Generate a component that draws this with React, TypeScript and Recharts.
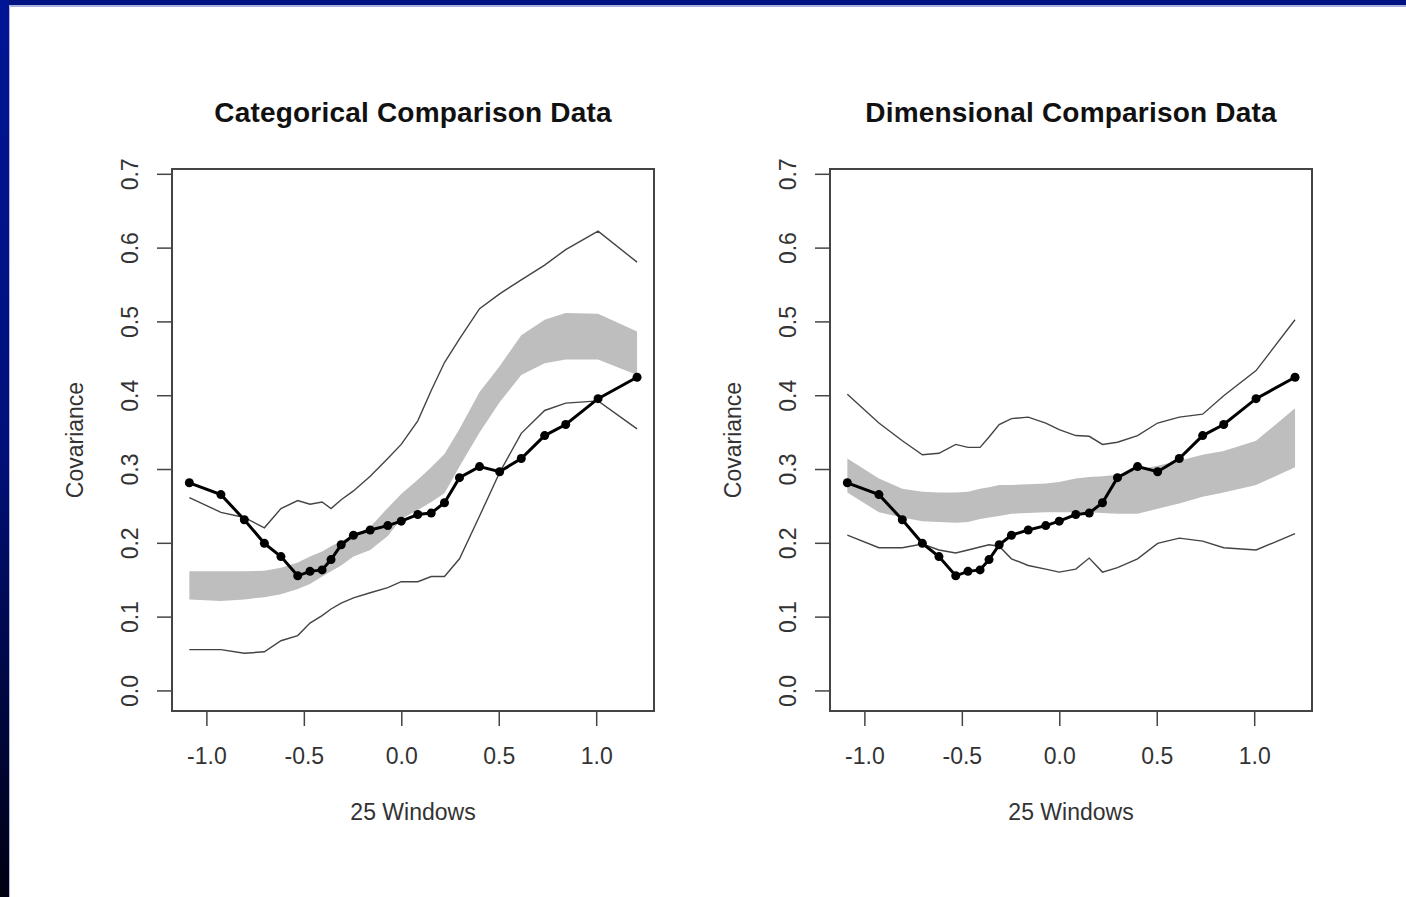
import { Area, ComposedChart, Line, ReferenceArea, XAxis, YAxis } from 'recharts';

const FONT = '"Liberation Sans", Arial, sans-serif';

// window centres shared by both panels
const xs = [-1.09, -0.928, -0.808, -0.705, -0.62, -0.534, -0.471, -0.409, -0.363, -0.311, -0.248, -0.162, -0.072, -0.003, 0.082, 0.151, 0.219, 0.296, 0.399, 0.502, 0.613, 0.733, 0.841, 1.007, 1.207];
const observed = [0.282, 0.266, 0.232, 0.2, 0.182, 0.156, 0.162, 0.164, 0.178, 0.198, 0.211, 0.218, 0.224, 0.23, 0.239, 0.241, 0.255, 0.289, 0.304, 0.297, 0.315, 0.346, 0.361, 0.396, 0.425];

const catBandLo = [0.124, 0.122, 0.124, 0.127, 0.131, 0.138, 0.145, 0.155, 0.162, 0.17, 0.182, 0.191, 0.21, 0.233, 0.245, 0.256, 0.268, 0.304, 0.35, 0.391, 0.428, 0.444, 0.449, 0.449, 0.428];
const catBandHi = [0.162, 0.162, 0.162, 0.163, 0.167, 0.174, 0.182, 0.189, 0.196, 0.203, 0.211, 0.222, 0.248, 0.267, 0.286, 0.303, 0.321, 0.355, 0.405, 0.44, 0.482, 0.503, 0.512, 0.511, 0.487];
const catUpper = [0.262, 0.242, 0.235, 0.221, 0.247, 0.258, 0.253, 0.256, 0.247, 0.259, 0.271, 0.291, 0.315, 0.334, 0.366, 0.407, 0.445, 0.477, 0.518, 0.538, 0.557, 0.577, 0.598, 0.623, 0.581];
const catLower = [0.056, 0.056, 0.051, 0.053, 0.068, 0.075, 0.092, 0.102, 0.111, 0.119, 0.126, 0.133, 0.14, 0.148, 0.148, 0.155, 0.155, 0.179, 0.237, 0.296, 0.349, 0.38, 0.39, 0.393, 0.355];

const dimBandLo = [0.269, 0.242, 0.235, 0.23, 0.229, 0.228, 0.229, 0.233, 0.235, 0.237, 0.24, 0.241, 0.242, 0.242, 0.242, 0.242, 0.241, 0.24, 0.24, 0.247, 0.254, 0.263, 0.269, 0.279, 0.303];
const dimBandHi = [0.315, 0.288, 0.274, 0.27, 0.269, 0.269, 0.27, 0.274, 0.276, 0.279, 0.279, 0.28, 0.281, 0.283, 0.288, 0.29, 0.291, 0.293, 0.3, 0.305, 0.312, 0.32, 0.325, 0.339, 0.383];
const dimUpper = [0.402, 0.363, 0.339, 0.32, 0.322, 0.334, 0.33, 0.33, 0.344, 0.361, 0.369, 0.371, 0.363, 0.354, 0.346, 0.345, 0.334, 0.337, 0.346, 0.363, 0.371, 0.375, 0.4, 0.434, 0.503];
const dimLower = [0.211, 0.194, 0.194, 0.199, 0.191, 0.187, 0.191, 0.195, 0.198, 0.196, 0.179, 0.17, 0.165, 0.161, 0.165, 0.18, 0.161, 0.167, 0.179, 0.2, 0.207, 0.203, 0.194, 0.191, 0.213];

const xTicks = [-1, -0.5, 0, 0.5, 1];
const yTicks = [0, 0.1, 0.2, 0.3, 0.4, 0.5, 0.6, 0.7];
const xDomain: [number, number] = [-1.179, 1.294];
const yDomain: [number, number] = [-0.0272, 0.7072];

type PanelProps = {
  title: string;
  left: number;
  bandLo: number[];
  bandHi: number[];
  upper: number[];
  lower: number[];
};

const YTick = (props: any) => {
  const { x, y, payload } = props;
  return (
    <text x={x} y={y} transform={`rotate(-90, ${x}, ${y})`} textAnchor="middle" fill="#333" fontSize={23} fontFamily={FONT}>
      {payload.value.toFixed(1)}
    </text>
  );
};

const yLabel = (props: any) => {
  const { x, y, height } = props.viewBox;
  const cx = x - 29;
  const cy = y + height / 2;
  return (
    <text x={cx} y={cy} transform={`rotate(-90, ${cx}, ${cy})`} textAnchor="middle" fill="#333" fontSize={23} fontFamily={FONT}>
      Covariance
    </text>
  );
};

const xLabel = (props: any) => {
  const { x, y, width } = props.viewBox;
  return (
    <text x={x + width / 2} y={y + 109} textAnchor="middle" fill="#333" fontSize={23} fontFamily={FONT}>
      25 Windows
    </text>
  );
};

function Panel({ title, left, bandLo, bandHi, upper, lower }: PanelProps) {
  const rows = xs.map((x, i) => ({
    x,
    obs: observed[i],
    band: [bandLo[i], bandHi[i]],
    upper: upper[i],
    lower: lower[i],
  }));
  return (
    <div style={{ position: 'absolute', left, top: 0, width: 700, height: 897 }}>
      <div
        style={{
          position: 'absolute',
          left: 172,
          width: 482,
          top: 99,
          textAlign: 'center',
          fontFamily: FONT,
          fontWeight: 'bold',
          fontSize: 28,
          lineHeight: '28px',
          letterSpacing: 0.2,
          color: '#111',
          whiteSpace: 'nowrap',
        }}
      >
        {title}
      </div>
      <ComposedChart width={700} height={897} data={rows} margin={{ top: 169, left: 112, right: 46, bottom: 156 }}>
        <XAxis
          dataKey="x"
          type="number"
          domain={xDomain}
          ticks={xTicks}
          allowDataOverflow
          tickFormatter={(v: number) => v.toFixed(1)}
          height={30}
          axisLine={false}
          tickSize={15}
          tickMargin={22}
          tickLine={{ stroke: '#444', strokeWidth: 1.5 }}
          tick={{ fill: '#333', fontSize: 23, fontFamily: FONT }}
          label={{ content: xLabel }}
        />
        <YAxis
          type="number"
          domain={yDomain}
          ticks={yTicks}
          allowDataOverflow
          width={60}
          axisLine={false}
          tickSize={15}
          tickMargin={19}
          tickLine={{ stroke: '#444', strokeWidth: 1.5 }}
          tick={<YTick />}
          label={{ content: yLabel }}
        />
        <Area dataKey="band" type="linear" stroke="none" fill="#bebebe" fillOpacity={1} isAnimationActive={false} activeDot={false} />
        <Line dataKey="upper" type="linear" stroke="#444" strokeWidth={1.4} dot={false} activeDot={false} isAnimationActive={false} />
        <Line dataKey="lower" type="linear" stroke="#444" strokeWidth={1.4} dot={false} activeDot={false} isAnimationActive={false} />
        <Line
          dataKey="obs"
          type="linear"
          stroke="#000"
          strokeWidth={3}
          dot={{ r: 4.5, fill: '#000', stroke: '#000', strokeWidth: 0 }}
          activeDot={false}
          isAnimationActive={false}
        />
        <ReferenceArea x1={xDomain[0]} x2={xDomain[1]} y1={yDomain[0]} y2={yDomain[1]} fill="none" fillOpacity={0} stroke="#444" strokeWidth={2} ifOverflow="visible" />
      </ComposedChart>
    </div>
  );
}

export default function App() {
  return (
    <div style={{ position: 'absolute', left: 0, top: 0, width: 1406, height: 897, background: '#fff', overflow: 'hidden' }}>
      <div style={{ position: 'absolute', left: 0, top: 0, width: 1406, height: 5, background: '#001282' }} />
      <div style={{ position: 'absolute', left: 9, top: 5, width: 1397, height: 2, background: '#aab3df' }} />
      <div
        style={{
          position: 'absolute',
          left: 0,
          top: 0,
          width: 9,
          height: 897,
          background: 'linear-gradient(to bottom, #001596 0%, #00107a 50%, #000012 100%)',
        }}
      />
      <div style={{ position: 'absolute', left: 9, top: 5, width: 1, height: 892, background: '#b4bade' }} />
      <Panel title="Categorical Comparison Data" left={0} bandLo={catBandLo} bandHi={catBandHi} upper={catUpper} lower={catLower} />
      <Panel title="Dimensional Comparison Data" left={658} bandLo={dimBandLo} bandHi={dimBandHi} upper={dimUpper} lower={dimLower} />
    </div>
  );
}
